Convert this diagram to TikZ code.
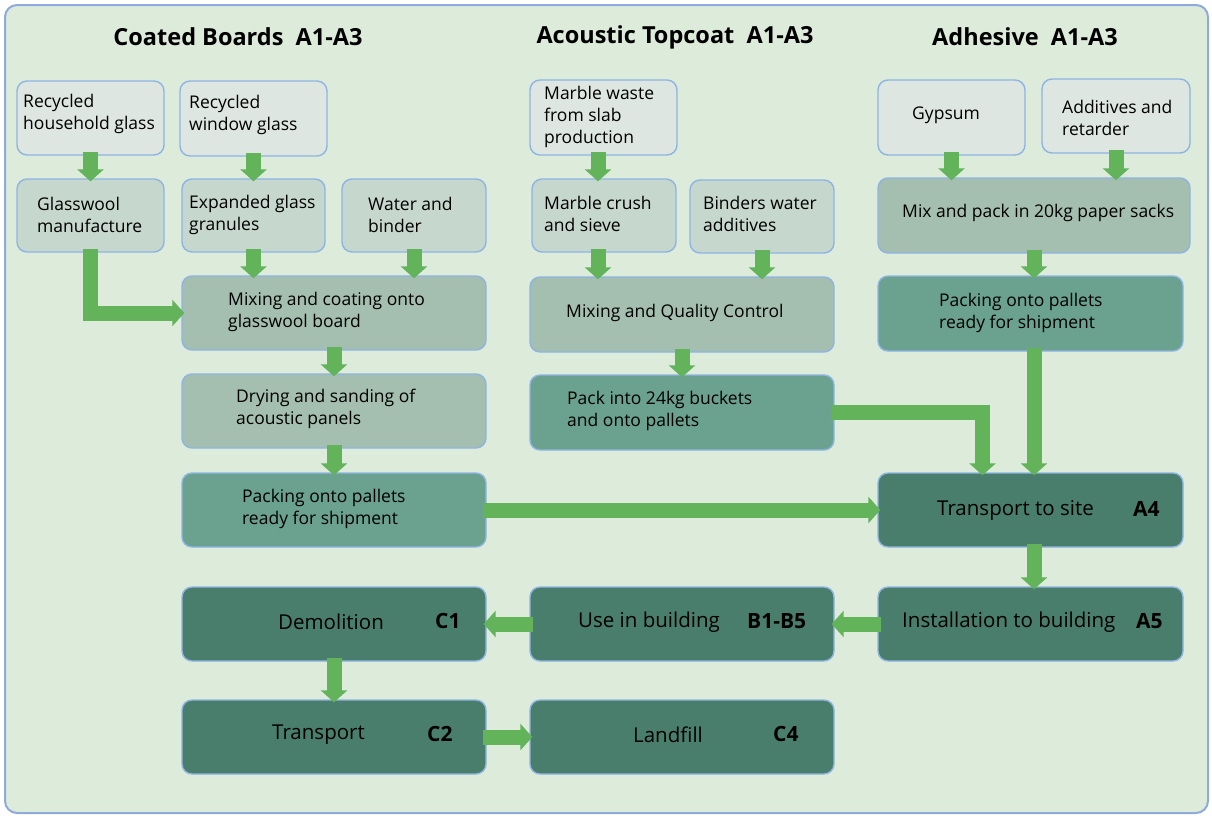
\documentclass[tikz,border=0pt]{standalone}
\usepackage{fontspec}
\setmainfont{Open Sans}
\usetikzlibrary{arrows.meta,calc,fit}
\definecolor{bgc}{HTML}{DDEBDA}
\definecolor{bgline}{HTML}{8FAADC}
\definecolor{boxline}{HTML}{8EB4E3}
\definecolor{lvA}{HTML}{DDE6E0}
\definecolor{lvB}{HTML}{C6D7CD}
\definecolor{lvC}{HTML}{A4BFB0}
\definecolor{lvD}{HTML}{6AA18F}
\definecolor{lvE}{HTML}{4A7E6C}
\definecolor{flowc}{HTML}{62B35A}
\begin{document}
\begin{tikzpicture}[x=1pt,y=-1pt,
 box/.style={draw=boxline, line width=1.4pt, rounded corners=10pt, inner sep=0pt},
 lbl/.style={anchor=west, align=left, inner sep=0pt, font=\fontsize{17.5}{22}\selectfont, text=black},
 big/.style={anchor=west, inner sep=0pt, font=\fontsize{20.5}{24}\selectfont},
 stage/.style={anchor=west, inner sep=0pt, font=\fontsize{21}{24}\selectfont\bfseries},
 ttl/.style={inner sep=0pt, font=\fontsize{23.5}{28}\selectfont\bfseries},
 flow/.style={draw=flowc, line width=15pt, line join=miter, -{Triangle[width=26pt,length=12pt]}, shorten <=-4pt, shorten >=-3pt}]
\useasboundingbox (0,0) rectangle (1212,817);
\node[fit={(5,5) (1208,813)}, draw=bgline, fill=bgc, line width=2pt, rounded corners=12pt, inner sep=0pt] (frame) {};
% titles
\node[ttl] (t1) at (238,37) {Coated Boards\ \ A1-A3};
\node[ttl] (t2) at (675,37) {Acoustic Topcoat\ \ A1-A3};
\node[ttl] (t3) at (1025,37) {Adhesive\ \ A1-A3};
% coated boards column
\node[box, fill=lvA, fit={(17,81) (164,155)}] (rhg) {};
\node[box, fill=lvA, fit={(180,81) (327,156)}] (rwg) {};
\node[box, fill=lvB, fit={(17,179) (164,252)}] (glw) {};
\node[box, fill=lvB, fit={(182,179) (325,252)}] (egg) {};
\node[box, fill=lvB, fit={(342,179) (486,252)}] (wab) {};
\node[box, fill=lvC, fit={(182,276) (486,350)}] (mix) {};
\node[box, fill=lvC, fit={(182,374) (486,448)}] (dry) {};
\node[box, fill=lvD, fit={(182,473) (486,547)}] (pkl) {};
% acoustic topcoat column
\node[box, fill=lvA, fit={(530,80) (677,155)}] (mw) {};
\node[box, fill=lvB, fit={(532,179) (676,252)}] (mcs) {};
\node[box, fill=lvB, fit={(690,180) (834,253)}] (bwa) {};
\node[box, fill=lvC, fit={(530,277) (834,352)}] (mqc) {};
\node[box, fill=lvD, fit={(530,375) (834,450)}] (pkb) {};
% adhesive column
\node[box, fill=lvA, fit={(878,80) (1025,155)}] (gyp) {};
\node[box, fill=lvA, fit={(1042,79) (1190,153)}] (adr) {};
\node[box, fill=lvC, fit={(878,178) (1190,253)}] (mps) {};
\node[box, fill=lvD, fit={(878,276) (1183,351)}] (pkr) {};
% downstream
\node[box, fill=lvE, fit={(878,473) (1183,547)}] (ts) {};
\node[box, fill=lvE, fit={(878,587) (1183,661)}] (ins) {};
\node[box, fill=lvE, fit={(530,587) (834,661)}] (use) {};
\node[box, fill=lvE, fit={(182,587) (486,661)}] (dem) {};
\node[box, fill=lvE, fit={(182,700) (486,774)}] (trn) {};
\node[box, fill=lvE, fit={(530,700) (834,774)}] (lf) {};
% labels
\node[lbl] (l1) at (23,114) {Recycled\\household glass};
\node[lbl] (l2) at (189,115) {Recycled\\window glass};
\node[lbl] (l3) at (37,215) {Glasswool\\manufacture};
\node[lbl] (l4) at (189,215) {Expanded glass\\granules};
\node[lbl] (l5) at (368,215) {Water and\\binder};
\node[lbl] (l6) at (228,312) {Mixing and coating onto\\glasswool board};
\node[lbl] (l7) at (236,409) {Drying and sanding of\\acoustic panels};
\node[lbl] (l8) at (242,509) {Packing onto pallets\\ready for shipment};
\node[lbl] (l9) at (544,117) {Marble waste\\from slab\\production};
\node[lbl] (l10) at (544,214) {Marble crush\\and sieve};
\node[lbl] (l11) at (703,214) {Binders water\\additives};
\node[lbl] (l12) at (566,313) {Mixing and Quality Control};
\node[lbl] (l13) at (567,411) {Pack into 24kg buckets\\and onto pallets};
\node[lbl] (l14) at (912,115) {Gypsum};
\node[lbl] (l15) at (1062,118) {Additives and\\retarder};
\node[lbl] (l16) at (902,213) {Mix and pack in 20kg paper sacks};
\node[lbl] (l17) at (939,313) {Packing onto pallets\\ready for shipment};
\node[big] (l18) at (937,510) {Transport to site};
\node[stage] (s18) at (1133,509) {A4};
\node[big] (l19) at (902,622) {Installation to building};
\node[stage] (s19) at (1136,621) {A5};
\node[big] (l20) at (578,622) {Use in building};
\node[stage] (s20) at (747,621) {B1-B5};
\node[big] (l21) at (278,622) {Demolition};
\node[stage] (s21) at (435,621) {C1};
\node[big] (l22) at (272,735) {Transport};
\node[stage] (s22) at (427,734) {C2};
\node[big] (l23) at (633,735) {Landfill};
\node[stage] (s23) at (773,734) {C4};
% arrows
\draw[flow] (rhg.south) -- (glw.north);
\draw[flow] (rwg.south) -- (egg.north);
\draw[flow] (glw.south) |- (mix.west);
\draw[flow] (egg.south) -- (egg.south |- mix.north);
\draw[flow] (wab.south) -- (wab.south |- mix.north);
\draw[flow] (mix.south) -- (dry.north);
\draw[flow] (dry.south) -- (pkl.north);
\draw[flow] ($(mw.south)+(-5.5,0)$) -- ($(mcs.north)+(-6,0)$);
\draw[flow] ($(mcs.south)+(-6,0)$) -- ($(mcs.south |- mqc.north)+(-6,0)$);
\draw[flow] (bwa.south) -- (bwa.south |- mqc.north);
\draw[flow] (mqc.south) -- (pkb.north);
\draw[flow] (gyp.south) -- (gyp.south |- mps.north);
\draw[flow] (adr.south) -- (adr.south |- mps.north);
\draw[flow] (mps.south) -- (mps.south |- pkr.north);
\draw[flow] (pkr.south -| mps.south) -- (ts.north -| mps.south);
\draw[flow] (pkb.east) -| ($(ts.north)+(-48,0)$);
\draw[flow] (pkl.east) -- (ts.west);
\draw[flow] (ts.south -| mps.south) -- (ins.north -| mps.south);
\draw[flow] (ins.west) -- (use.east);
\draw[flow] (use.west) -- (dem.east);
\draw[flow] (dem.south) -- (trn.north);
\draw[flow] (trn.east) -- (lf.west);
\end{tikzpicture}
\end{document}
